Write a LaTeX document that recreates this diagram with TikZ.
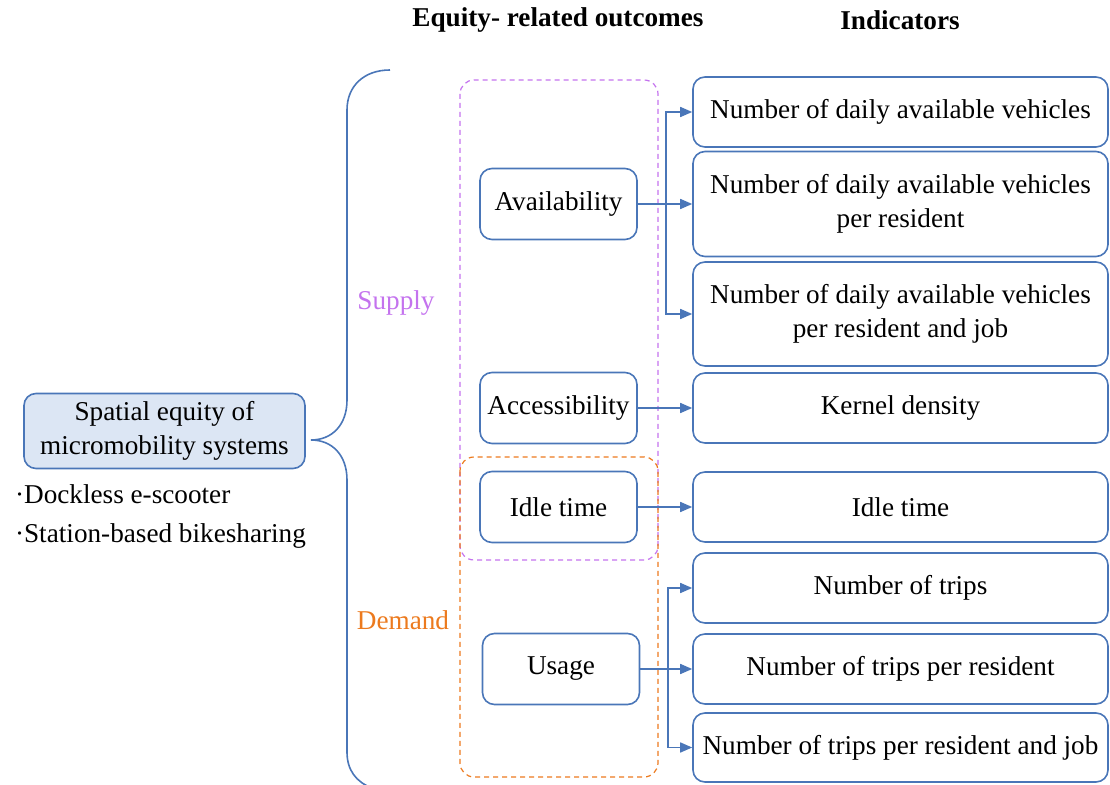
\documentclass[tikz,border=0pt]{standalone}
\usepackage{fontspec}
\setmainfont{Liberation Serif}
\usetikzlibrary{arrows.meta}
\definecolor{boxblue}{HTML}{4A76B8}
\definecolor{fillblue}{HTML}{DCE6F4}
\definecolor{supplyviolet}{HTML}{C473EE}
\definecolor{demandorange}{HTML}{EC7A1E}
\tikzset{
every node/.style={font=\fontsize{13.6}{17}\selectfont}, % serif text everywhere
heading/.style={font=\fontsize{13.6}{17}\selectfont\bfseries},
outcome/.style={draw=boxblue, line width=0.8pt, rounded corners=6pt, minimum width=78.5pt, minimum height=35.5pt},
indicator/.style={draw=boxblue, line width=0.8pt, rounded corners=6pt, minimum width=207.5pt, align=center},
link/.style={draw=boxblue, line width=0.8pt, -{Triangle[length=6pt,width=5pt]}}, % blue arrows
group/.style={line width=0.6pt, dash pattern=on 2.5pt off 2pt, rounded corners=7pt},
}

\begin{document}
\begin{tikzpicture}[x=0.5pt, y=-0.5pt]
\useasboundingbox (0,0) rectangle (1110,785);

% column headings
\node[heading] (hout) at (558,20) {Equity- related outcomes};
\node[heading] (hind) at (900,20) {Indicators};

% left part
\node[draw=boxblue, fill=fillblue, line width=0.8pt, rounded corners=6pt, minimum width=140.5pt, minimum height=37.5pt, align=center] (spatial) at (164.5,431) {Spatial equity of\\micromobility systems};
\node[anchor=west] (dockless) at (8,494) {·Dockless e-scooter};
\node[anchor=west] (station) at (8,536) {·Station-based bikesharing};

% brace
\draw[boxblue, line width=0.8pt] (390,70) .. controls (364,70) and (347,86) .. (347,110) -- (347,400)
  .. controls (347,425) and (332,440) .. (311,440) .. controls (332,440) and (347,455) .. (347,480)
  -- (347,752) .. controls (347,770) and (356,782) .. (372,788);

\node[text=supplyviolet] (supply) at (396,303) {Supply};
\node[text=demandorange] (demand) at (403,620) {Demand};

% dashed groups
\draw[group, supplyviolet] (460,80) rectangle (658,560);
\draw[group, demandorange] (460,457) rectangle (658,777);

% outcomes
\node[outcome] (avail) at (558.5,204) {Availability};
\node[outcome] (access) at (558.5,408) {Accessibility};
\node[outcome] (idle) at (558.5,507) {Idle time};
\node[outcome] (usage) at (561,669) {Usage};

% indicators
\node[indicator, minimum height=35pt] (ind1) at (900.5,112) {Number of daily available vehicles};
\node[indicator, minimum height=52.5pt] (ind2) at (900.5,204) {Number of daily available vehicles\\per resident};
\node[indicator, minimum height=52pt] (ind3) at (900.5,314) {Number of daily available vehicles\\per resident and job};
\node[indicator, minimum height=35pt] (ind4) at (900.5,408) {Kernel density};
\node[indicator, minimum height=35pt] (ind5) at (900.5,507) {Idle time};
\node[indicator, minimum height=35pt] (ind6) at (900.5,588) {Number of trips};
\node[indicator, minimum height=35pt] (ind7) at (900.5,669) {Number of trips per resident};
\node[indicator, minimum height=34.5pt] (ind8) at (900.5,747.5) {Number of trips per resident and job};

% connectors
\coordinate (abranch) at (666,204);
\coordinate (ubranch) at (668,669);
\draw[link] (avail.east) -- (ind2.west);
\draw[link] (abranch) |- (ind1.west);
\draw[link] (abranch) |- (ind3.west);
\draw[link] (access.east) -- (ind4.west);
\draw[link] (idle.east) -- (ind5.west);
\draw[link] (usage.east) -- (ind7.west);
\draw[link] (ubranch) |- (ind6.west);
\draw[link] (ubranch) |- (ind8.west);
\end{tikzpicture}
\end{document}
